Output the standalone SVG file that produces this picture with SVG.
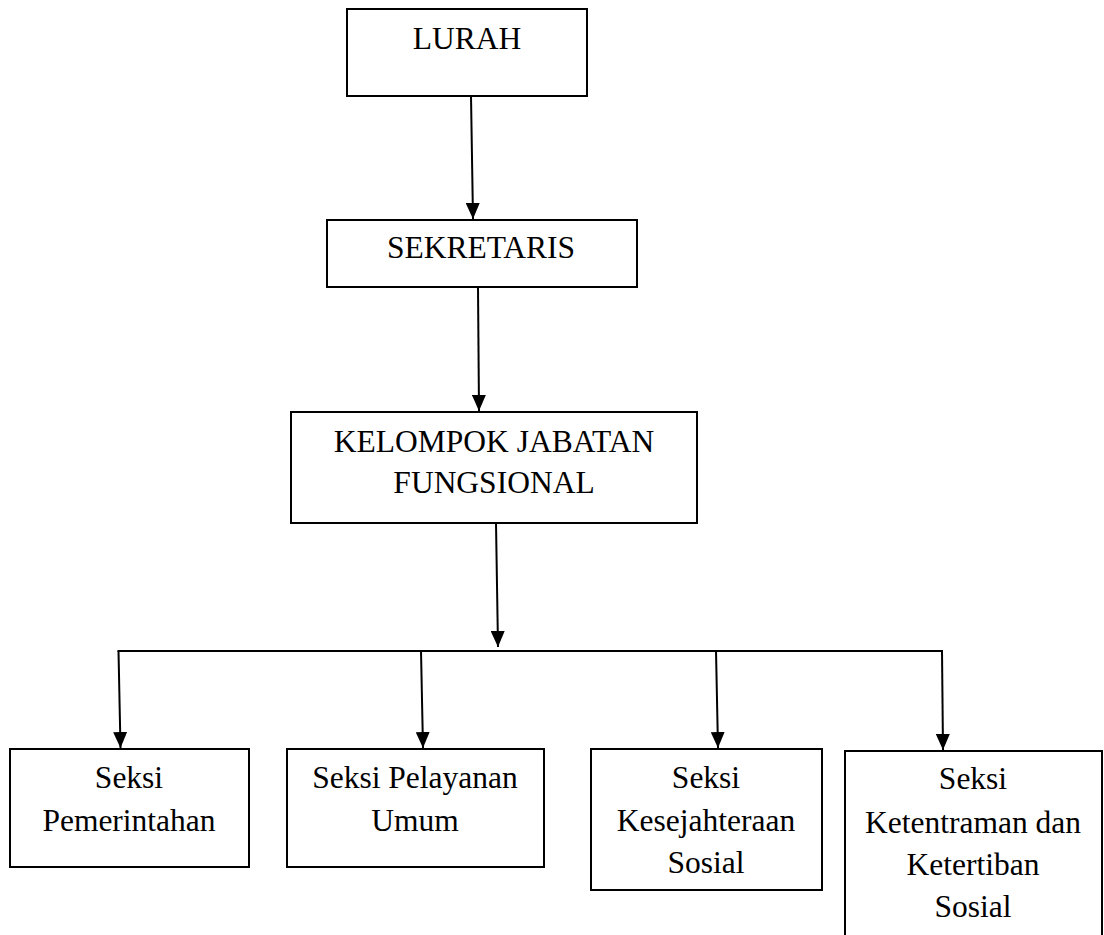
<svg xmlns="http://www.w3.org/2000/svg" width="1104" height="935" viewBox="0 0 1104 935">
<style>
.box{fill:#fff;stroke:#000;stroke-width:2}
.t{font-family:"Liberation Serif","Times New Roman",serif;font-size:31.5px;fill:#000;text-anchor:middle}
.c{fill:none;stroke:#000;stroke-width:2}
</style>
<defs>
<marker id="ah" viewBox="0 0 16 14" refX="16" refY="7" markerWidth="16" markerHeight="14" markerUnits="userSpaceOnUse" orient="auto">
<path d="M0,0 L16,7 L0,14 z" fill="#000"/>
</marker>
</defs>
<rect width="1104" height="935" fill="#fff"/>
<g id="lurah"><rect class="box" x="347" y="9" width="240" height="87"/><text class="t" x="467" y="49">LURAH</text></g>
<g id="sekretaris"><rect class="box" x="327" y="220" width="310" height="67"/><text class="t" x="481" y="258">SEKRETARIS</text></g>
<g id="kelompok"><rect class="box" x="291" y="412" width="406" height="111"/><text class="t" x="494" y="452">KELOMPOK JABATAN</text><text class="t" x="494" y="493">FUNGSIONAL</text></g>
<g id="pemerintahan"><rect class="box" x="10" y="749" width="239" height="118"/><text class="t" x="129" y="788">Seksi</text><text class="t" x="129" y="831">Pemerintahan</text></g>
<g id="pelayanan"><rect class="box" x="287" y="749" width="257" height="118"/><text class="t" x="415" y="788">Seksi Pelayanan</text><text class="t" x="415" y="831">Umum</text></g>
<g id="kesejahteraan"><rect class="box" x="591" y="749" width="231" height="141"/><text class="t" x="706" y="788">Seksi</text><text class="t" x="706" y="831">Kesejahteraan</text><text class="t" x="706" y="873">Sosial</text></g>
<g id="ketentraman"><rect class="box" x="845" y="751" width="257" height="200"/><text class="t" x="973" y="789">Seksi</text><text class="t" x="973" y="833">Ketentraman dan</text><text class="t" x="973" y="875">Ketertiban</text><text class="t" x="973" y="917">Sosial</text></g>
<g id="connectors">
<line class="c" x1="471" y1="96" x2="473" y2="219" marker-end="url(#ah)"/>
<line class="c" x1="478" y1="287" x2="479" y2="411" marker-end="url(#ah)"/>
<line class="c" x1="496" y1="523" x2="498" y2="647" marker-end="url(#ah)"/>
<line class="c" x1="117.5" y1="651" x2="943" y2="651"/>
<line class="c" x1="118.5" y1="651" x2="120.5" y2="748" marker-end="url(#ah)"/>
<line class="c" x1="421" y1="651" x2="423" y2="748" marker-end="url(#ah)"/>
<line class="c" x1="716" y1="651" x2="718" y2="748" marker-end="url(#ah)"/>
<line class="c" x1="942" y1="651" x2="943" y2="750" marker-end="url(#ah)"/>
</g>
</svg>
